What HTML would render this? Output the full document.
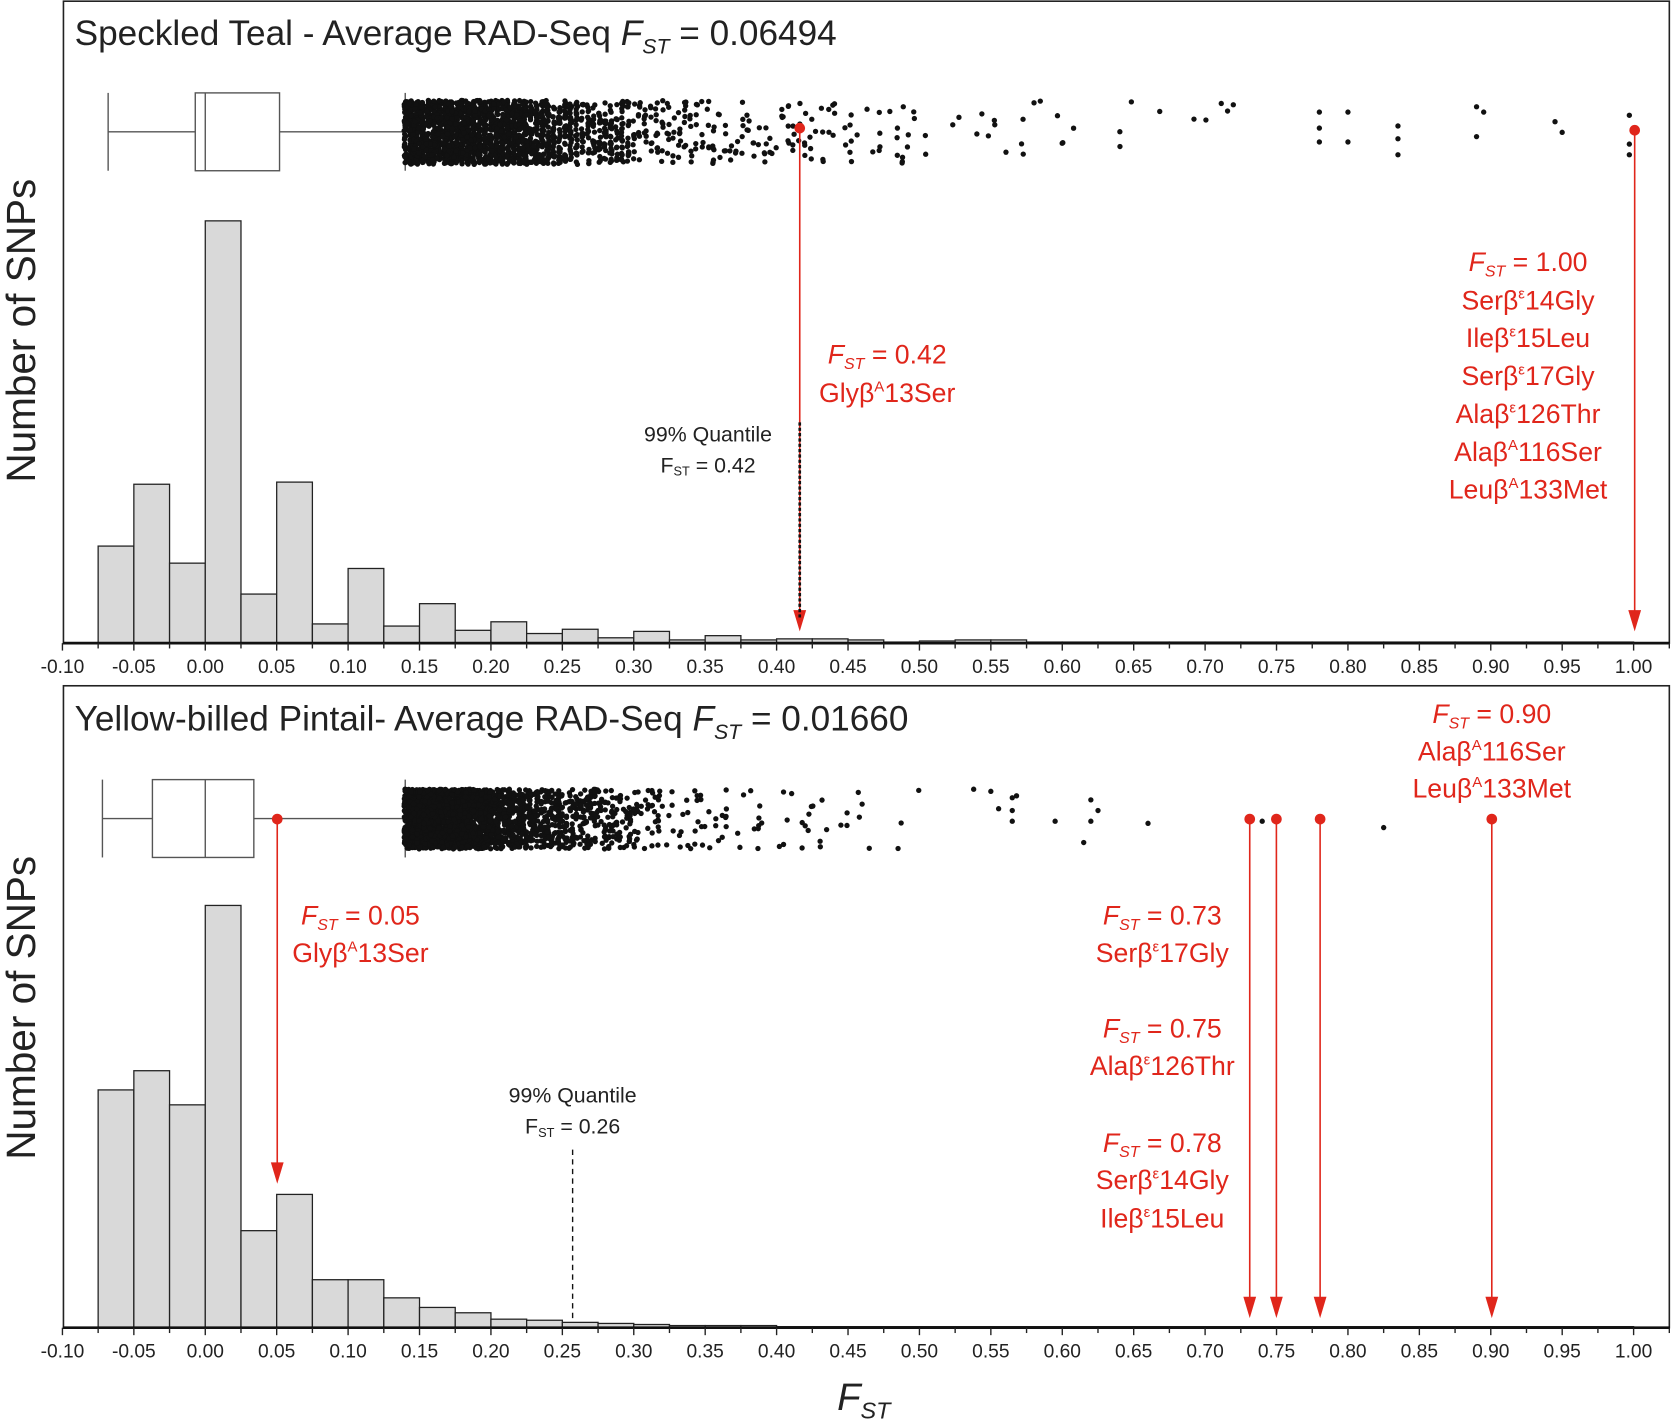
<!DOCTYPE html>
<html><head><meta charset="utf-8"><style>
html,body{margin:0;padding:0;background:#fff;}
svg{display:block;}
text{font-family:"Liberation Sans",sans-serif;}
</style></head><body>
<svg id="s" width="1672" height="1427" viewBox="0 0 1568 1338" xmlns="http://www.w3.org/2000/svg">
<rect x="0" y="0" width="1568" height="1338" fill="#fff"/>
<g id="g"></g>
</svg>
<script>
const NS="http://www.w3.org/2000/svg";
const g=document.getElementById('g');
function el(t,a,txt){const e=document.createElementNS(NS,t);for(const k in a)e.setAttribute(k,a[k]);if(txt!==undefined)e.innerHTML=txt;g.appendChild(e);return e;}
const X=v=>192.5+v*1339.5;
let seed=12345;function rnd(){seed=(seed*1103515245+12345)%2147483648;return seed/2147483648;}
const RED="#e0261b";
function panel(top,base,hist,box,pts){
  el('rect',{x:59.5,y:top,width:1506,height:base-top,fill:'none',stroke:'#222','stroke-width':1.5});
  hist.forEach((h,i)=>{const x0=X(-0.075+i*0.025);if(base-h<0.5)return;
    el('rect',{x:x0,y:h,width:33.49,height:base-h,fill:'#d9d9d9',stroke:'#222','stroke-width':1.2});});
  el('line',{x1:59,y1:base,x2:1566,y2:base,stroke:'#111','stroke-width':2.5});
  for(let i=0;i<=45;i++){const v=-0.1+i*0.025;const x=X(v);const maj=i%2==0;
    el('line',{x1:x,y1:base,x2:x,y2:base+(maj?7:5),stroke:'#222','stroke-width':1.3});
    if(maj){el('text',{x:x,y:base+28,'text-anchor':'middle','font-size':18,fill:'#222'},v.toFixed(2).replace('-0.00','0.00'));}}
  const [w0,q1,med,q3,w1,yt,yb]=box,yc=(yt+yb)/2;
  el('line',{x1:X(w0),y1:yt,x2:X(w0),y2:yb,stroke:'#555','stroke-width':1.3});
  el('line',{x1:X(w0),y1:yc,x2:X(q1),y2:yc,stroke:'#555','stroke-width':1.3});
  el('rect',{x:X(q1),y:yt,width:X(q3)-X(q1),height:yb-yt,fill:'none',stroke:'#555','stroke-width':1.3});
  el('line',{x1:X(med),y1:yt,x2:X(med),y2:yb,stroke:'#555','stroke-width':1.3});
  el('line',{x1:X(q3),y1:yc,x2:X(w1),y2:yc,stroke:'#555','stroke-width':1.3});
  el('line',{x1:X(w1),y1:yt,x2:X(w1),y2:yb,stroke:'#555','stroke-width':1.3});
  let s='';
  pts.forEach(p=>{s+=`<circle cx="${p[0].toFixed(1)}" cy="${p[1].toFixed(1)}" r="2.5"/>`;});
  el('g',{fill:'#111'},s);
}
const h1=[512,454,528,207,557,452,585,533,587,566,591,583,594,590,598,592,600,596,600,599,599,600,602,601,600,600,602,602,602,602,602,602,602,602,602,602,602,602,602,602,602,602,602];
let p1=[];
for(let i=0;i<2200;i++){let v=0.14+(-Math.log(1-rnd()*0.999))*0.1;if(v>0.74)continue;
  if(v>0.3&&rnd()<0.5)continue;
  v=Math.round(v*250)/250;p1.push([X(v)+(rnd()-0.5)*2,94+rnd()*60]);}
for(let i=0;i<500;i++){let v=0.14+rnd()*0.1;p1.push([X(v),94+rnd()*60]);}
[[0.78,105],[0.78,120],[0.78,133],[0.8,105],[0.8,133],[0.835,118],[0.835,130],[0.835,145],[0.89,100],[0.89,128],[0.895,105],[0.945,114],[0.95,124],[0.997,108],[0.997,135],[0.997,145]].forEach(a=>p1.push([X(a[0]),a[1]]));
panel(1,603,h1,[-0.068,-0.007,0.0,0.052,0.14,87,160],p1);
const h2=[1022,1004,1036,849,1154,1120,1200,1200,1217,1226,1231,1237,1238,1240,1241,1242,1243,1243,1243,1244,1244,1244,1244,1244,1244,1244,1244,1244,1244,1244,1244,1244,1244,1244,1244,1244,1244,1244,1244,1244,1244,1244,1244];
let p2=[];
for(let i=0;i<2300;i++){let v=0.14+(-Math.log(1-rnd()*0.999))*0.065;if(v>0.6)continue;
  if(v>0.3&&rnd()<0.4)continue;
  v=Math.round(v*400)/400;p2.push([X(v)+(rnd()-0.5)*2,740+rnd()*56]);}
for(let i=0;i<400;i++){let v=0.14+rnd()*0.07;p2.push([X(v),740+rnd()*56]);}
[[0.55,742],[0.565,748],[0.565,760],[0.565,770],[0.595,770],[0.62,750],[0.625,760],[0.62,770],[0.615,790],[0.66,772],[0.74,770],[0.825,776]].forEach(a=>p2.push([X(a[0]),a[1]]));
panel(643,1245,h2,[-0.072,-0.037,0.0,0.034,0.14,731,804],p2);
el('text',{x:70,y:42,'font-size':33,fill:'#222'},'Speckled Teal - Average RAD-Seq <tspan font-style="italic">F</tspan><tspan font-style="italic" font-size="20" dy="8">ST</tspan><tspan dy="-8"> = 0.06494</tspan>');
el('text',{x:70,y:685,'font-size':33,fill:'#222'},'Yellow-billed Pintail- Average RAD-Seq <tspan font-style="italic">F</tspan><tspan font-style="italic" font-size="20" dy="8">ST</tspan><tspan dy="-8">  = 0.01660</tspan>');
el('text',{x:0,y:0,'font-size':38,fill:'#222','text-anchor':'middle',transform:'translate(33,310) rotate(-90)'},'Number of SNPs');
el('text',{x:0,y:0,'font-size':38,fill:'#222','text-anchor':'middle',transform:'translate(33,945) rotate(-90)'},'Number of SNPs');
el('text',{x:785,y:1322,'font-size':36,fill:'#222','font-style':'italic'},'F<tspan font-size="22" dy="8">ST</tspan>');
function arrow(x,y1,y2){el('line',{x1:x,y1:y1,x2:x,y2:y2-14,stroke:RED,'stroke-width':1.5});
  el('polygon',{points:`${x-6},${y2-20} ${x+6},${y2-20} ${x},${y2}`,fill:RED});
  el('circle',{cx:x,cy:y1,r:5,fill:RED});}
function fst(x,y,val){el('text',{x:x,y:y,'font-size':25,fill:RED,'text-anchor':'middle'},'<tspan font-style="italic">F</tspan><tspan font-style="italic" font-size="15" dy="5">ST</tspan><tspan dy="-5"> = '+val+'</tspan>');}
function lab(x,y,a,sup,b){el('text',{x:x,y:y,'font-size':25,fill:RED,'text-anchor':'middle'},a+'β<tspan font-size="14" dy="-10">'+sup+'</tspan><tspan dy="10">'+b+'</tspan>');}
arrow(750,120,592);arrow(1533,122,592);
el('line',{x1:750,y1:396,x2:750,y2:580,stroke:'#111','stroke-width':2.5,'stroke-dasharray':'3,2'});
el('text',{x:664,y:414,'font-size':20,fill:'#222','text-anchor':'middle'},'99% Quantile');
el('text',{x:664,y:443,'font-size':20,fill:'#222','text-anchor':'middle'},'F<tspan font-size="12" dy="3">ST</tspan><tspan dy="-3"> = 0.42</tspan>');
fst(832,341,'0.42');lab(832,377,'Gly','A','13Ser');
fst(1433,254,'1.00');
[['Ser','ε','14Gly'],['Ile','ε','15Leu'],['Ser','ε','17Gly'],['Ala','ε','126Thr'],['Ala','A','116Ser'],['Leu','A','133Met']].forEach((r,i)=>lab(1433,290+i*35.5,r[0],r[1],r[2]));
arrow(260,768,1110);
[1172,1197,1238,1399].forEach(x=>arrow(x,768,1236));
el('line',{x1:537,y1:1078,x2:537,y2:1240,stroke:'#111','stroke-width':1.3,'stroke-dasharray':'5,4'});
el('text',{x:537,y:1034,'font-size':20,fill:'#222','text-anchor':'middle'},'99% Quantile');
el('text',{x:537,y:1063,'font-size':20,fill:'#222','text-anchor':'middle'},'F<tspan font-size="12" dy="3">ST</tspan><tspan dy="-3"> = 0.26</tspan>');
fst(338,867,'0.05');lab(338,902,'Gly','A','13Ser');
fst(1399,678,'0.90');lab(1399,713,'Ala','A','116Ser');lab(1399,748,'Leu','A','133Met');
fst(1090,867,'0.73');lab(1090,902,'Ser','ε','17Gly');
fst(1090,973,'0.75');lab(1090,1008,'Ala','ε','126Thr');
fst(1090,1080,'0.78');lab(1090,1115,'Ser','ε','14Gly');lab(1090,1151,'Ile','ε','15Leu');
</script>
</body></html>
